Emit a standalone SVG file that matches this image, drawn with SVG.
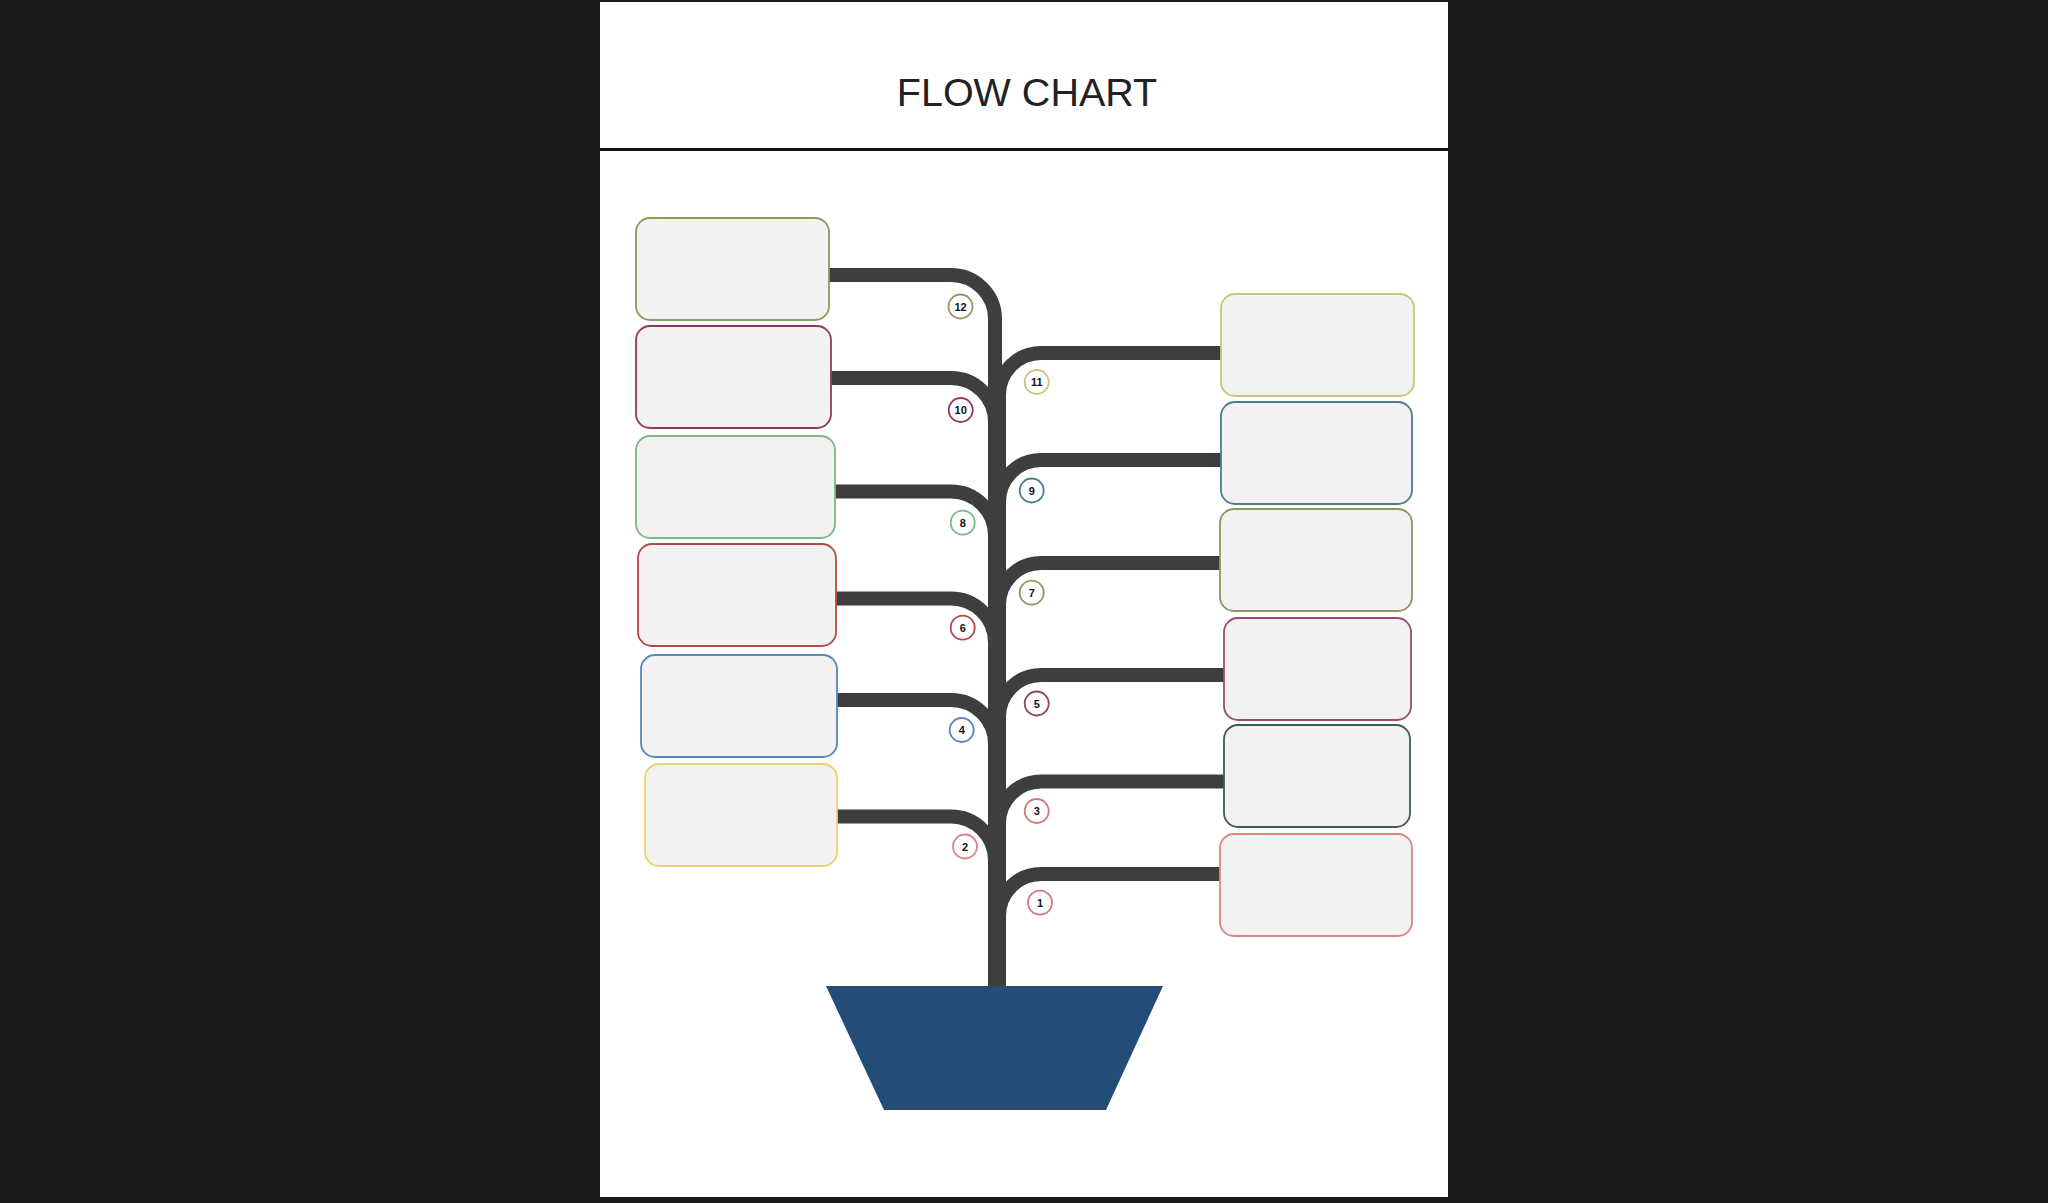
<svg xmlns="http://www.w3.org/2000/svg" width="2048" height="1203" viewBox="0 0 2048 1203">
<style>
.box{fill:#f2f2f2;stroke-width:1.8}
.br{fill:none;stroke:#3e3e3e;stroke-width:14}
.num{fill:#fff;stroke-width:1.8}
.nt{font-family:"Liberation Sans",Arial,sans-serif;font-size:11px;font-weight:bold;fill:#111;text-anchor:middle}
</style>
<rect x="0" y="0" width="2048" height="1203" fill="#1c191d"/>
<rect x="600" y="2" width="848" height="1195" fill="#ffffff"/>
<line x1="600" y1="149.5" x2="1448" y2="149.5" stroke="#111" stroke-width="3"/>
<text x="1027" y="106" font-family="Liberation Sans, Arial, sans-serif" font-size="39.5" fill="#222" text-anchor="middle">FLOW CHART</text>

<g id="connectors">
<path class="br" d="M829 275 H951 A44 44 0 0 1 995 319 V986"/>
<path class="br" d="M831 378 H951 A44 44 0 0 1 995 422 V986"/>
<path class="br" d="M835 491.5 H951 A44 44 0 0 1 995 535.5 V986"/>
<path class="br" d="M836 598.5 H951 A44 44 0 0 1 995 642.5 V986"/>
<path class="br" d="M837 700 H951 A44 44 0 0 1 995 744 V986"/>
<path class="br" d="M837 816.5 H951 A44 44 0 0 1 995 860.5 V986"/>
<path class="br" d="M1221 353 H1041 A42 42 0 0 0 999 395 V986"/>
<path class="br" d="M1221 460 H1041 A42 42 0 0 0 999 502 V986"/>
<path class="br" d="M1220 563 H1041 A42 42 0 0 0 999 605 V986"/>
<path class="br" d="M1224 675 H1041 A42 42 0 0 0 999 717 V986"/>
<path class="br" d="M1224 781.5 H1041 A42 42 0 0 0 999 823.5 V986"/>
<path class="br" d="M1220 874 H1041 A42 42 0 0 0 999 916 V986"/>
</g>

<g id="pot">
<polygon points="826,986 1163,986 1106,1110 884,1110" fill="#234d77"/>
</g>

<g id="node12"><rect class="box" x="636" y="218" width="193" height="102" rx="14" stroke="#8f9a5e"/><circle class="num" cx="960.5" cy="306.5" r="12" stroke="#8f9a5e"/><text class="nt" x="960.5" y="310.5">12</text></g>
<g id="node10"><rect class="box" x="636" y="326" width="195" height="102" rx="14" stroke="#94385c"/><circle class="num" cx="960.7" cy="410" r="12" stroke="#94385c"/><text class="nt" x="960.7" y="414">10</text></g>
<g id="node8"><rect class="box" x="636" y="436" width="199" height="102" rx="14" stroke="#7ab98a"/><circle class="num" cx="962.7" cy="522.7" r="12" stroke="#7ab98a"/><text class="nt" x="962.7" y="526.7">8</text></g>
<g id="node6"><rect class="box" x="638" y="544" width="198" height="102" rx="14" stroke="#b54848"/><circle class="num" cx="962.7" cy="627.7" r="12" stroke="#b54848"/><text class="nt" x="962.7" y="631.7">6</text></g>
<g id="node4"><rect class="box" x="641" y="655" width="196" height="102" rx="14" stroke="#5b86b8"/><circle class="num" cx="961.7" cy="730" r="12" stroke="#5b86b8"/><text class="nt" x="961.7" y="734">4</text></g>
<g id="node2"><rect class="box" x="645" y="764" width="192" height="102" rx="14" stroke="#ecd170"/><circle class="num" cx="965" cy="846.5" r="12" stroke="#dd8088"/><text class="nt" x="965" y="850.5">2</text></g>

<g id="node11"><rect class="box" x="1221" y="294" width="193" height="102" rx="14" stroke="#cbc57c"/><circle class="num" cx="1036.7" cy="382" r="12" stroke="#cbc57c"/><text class="nt" x="1036.7" y="386">11</text></g>
<g id="node9"><rect class="box" x="1221" y="402" width="191" height="102" rx="14" stroke="#4e7d88"/><circle class="num" cx="1031.7" cy="490.5" r="12" stroke="#4e7d88"/><text class="nt" x="1031.7" y="494.5">9</text></g>
<g id="node7"><rect class="box" x="1220" y="509" width="192" height="102" rx="14" stroke="#899a62"/><circle class="num" cx="1031.7" cy="592.7" r="12" stroke="#899a62"/><text class="nt" x="1031.7" y="596.7">7</text></g>
<g id="node5"><rect class="box" x="1224" y="618" width="187" height="102" rx="14" stroke="#9c4b76"/><circle class="num" cx="1036.7" cy="703.5" r="12" stroke="#8c4468"/><text class="nt" x="1036.7" y="707.5">5</text></g>
<g id="node3"><rect class="box" x="1224" y="725" width="186" height="102" rx="14" stroke="#3d5f45"/><circle class="num" cx="1036.7" cy="811" r="12" stroke="#d0787a"/><text class="nt" x="1036.7" y="815">3</text></g>
<g id="node1"><rect class="box" x="1220" y="834" width="192" height="102" rx="14" stroke="#e08585"/><circle class="num" cx="1040" cy="902.7" r="12" stroke="#d0787a"/><text class="nt" x="1040" y="906.7">1</text></g>
</svg>
